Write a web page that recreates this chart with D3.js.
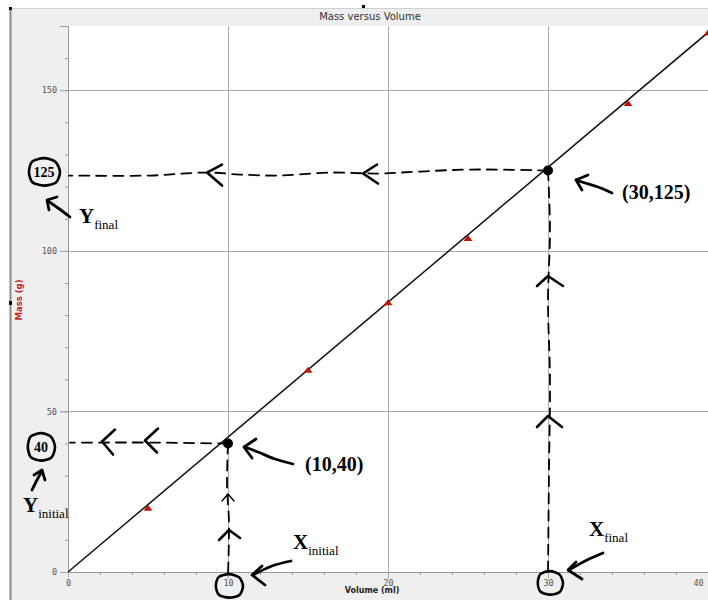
<!DOCTYPE html>
<html><head><meta charset="utf-8">
<script src="https://cdn.jsdelivr.net/npm/d3@7/dist/d3.min.js"></script>
<style>html,body{margin:0;padding:0;background:#fff;overflow:hidden}</style>
</head><body>
<svg id="chart" width="708" height="600"></svg>
<script>
// Measured samples
const volumes = [5, 15, 20, 25, 35, 40];
const masses  = [20, 63, 84, 104, 146, 168];
// Best-fit line through the origin
const fitVolumes = [0, 40];
const fitMasses  = [0, 168];
// Axis ticks
const xTicks = [0, 10, 20, 30, 40];
const yTicks = [0, 50, 100, 150];
// Two readings taken off the line
const readVolumes = [10, 30];
const readMasses  = [40, 125];
const readLabels  = ["(10,40)", "(30,125)"];

const svg = d3.select("#chart");
const W = 708, H = 600;
const x = d3.scaleLinear().domain([0, 40]).range([68, 708]);
const y = d3.scaleLinear().domain([0, 170]).range([572, 26]);

// frame / panel
svg.append("rect").attr("width", W).attr("height", H).attr("fill", "#fff");
svg.append("rect").attr("x", 10).attr("y", 8).attr("width", W - 10).attr("height", H - 8).attr("fill", "#efefef");
svg.append("line").attr("x1", 10).attr("x2", W).attr("y1", 8.5).attr("y2", 8.5).attr("stroke", "#cfcfcf");
svg.append("line").attr("x1", 10.5).attr("x2", 10.5).attr("y1", 8).attr("y2", H).attr("stroke", "#8c8c8c").attr("stroke-width", 2);
svg.append("rect").attr("x", 9).attr("y", 7).attr("width", 3).attr("height", 3).attr("fill", "#000");
svg.append("rect").attr("x", 362).attr("y", 5).attr("width", 3).attr("height", 3).attr("fill", "#000");
svg.append("rect").attr("x", 9).attr("y", 301).attr("width", 3).attr("height", 4).attr("fill", "#000");

// title
svg.append("text").attr("x", 370).attr("y", 20).attr("text-anchor", "middle")
  .attr("font-family", "DejaVu Sans, sans-serif").attr("font-size", 10).attr("fill", "#333")
  .text("Mass versus Volume");

// plot area
svg.append("rect").attr("x", x(0)).attr("y", y(170)).attr("width", x(40) - x(0)).attr("height", y(0) - y(170)).attr("fill", "#fff");

// grid
const grid = svg.append("g").attr("stroke", "#ababab").attr("stroke-width", 1);
xTicks.filter(d => d > 0).forEach(d => {
  grid.append("line").attr("x1", Math.round(x(d)) + 0.5).attr("x2", Math.round(x(d)) + 0.5)
    .attr("y1", y(170)).attr("y2", y(0) + 7);
});
yTicks.filter(d => d > 0).forEach(d => {
  grid.append("line").attr("y1", Math.round(y(d)) + 0.5).attr("y2", Math.round(y(d)) + 0.5)
    .attr("x1", x(0) - 8).attr("x2", x(40));
});

// axes
const tickFont = "DejaVu Sans Mono, monospace";
const yMinor = svg.append("g").attr("transform", `translate(${x(0)},0)`)
  .call(d3.axisLeft(y).tickValues(d3.range(0, 171, 10)).tickSize(3).tickFormat(""));
const xMinor = svg.append("g").attr("transform", `translate(0,${y(0)})`)
  .call(d3.axisBottom(x).tickValues(d3.range(0, 41, 2)).tickSize(3).tickFormat(""));
[yMinor, xMinor].forEach(g => { g.selectAll("line,path").attr("stroke", "#999"); });

const yAxis = svg.append("g").attr("transform", `translate(${x(0)},0)`)
  .call(d3.axisLeft(y).tickValues(yTicks).tickSize(8).tickPadding(3));
const xAxis = svg.append("g").attr("transform", `translate(0,${y(0)})`)
  .call(d3.axisBottom(x).tickValues(xTicks).tickSize(5).tickPadding(3));
[yAxis, xAxis].forEach(g => {
  g.select(".domain").attr("stroke", "#9a9a9a");
  g.selectAll(".tick line").attr("stroke", "#ababab");
  g.selectAll(".tick text").attr("font-family", tickFont).attr("font-size", 8.5).attr("fill", "#555");
});
xAxis.selectAll(".tick").filter(d => d === 40).select("text").attr("dx", -10);

// axis titles
svg.append("text").attr("transform", "translate(22,300) rotate(-90)").attr("text-anchor", "middle")
  .attr("font-family", "DejaVu Sans, sans-serif").attr("font-size", 8.5).attr("font-weight", "bold")
  .attr("fill", "#c81e1e").text("Mass (g)");
svg.append("text").attr("x", 372).attr("y", 593).attr("text-anchor", "middle")
  .attr("font-family", "DejaVu Sans, sans-serif").attr("font-size", 8).attr("font-weight", "bold")
  .attr("fill", "#222").text("Volume (ml)");

// fit line
svg.append("path").datum(fitVolumes.map((v, i) => [v, fitMasses[i]]))
  .attr("d", d3.line().x(d => x(d[0])).y(d => y(d[1])))
  .attr("fill", "none").attr("stroke", "#111").attr("stroke-width", 1.5);

// measured points (red triangles)
const tri = "M0,-3 L4.5,3 L-4.5,3 Z";
svg.append("g").selectAll("path").data(volumes).join("path")
  .attr("transform", (v, i) => `translate(${x(v)},${y(masses[i])})`)
  .attr("d", tri).attr("fill", "#c0140c");

// ---- hand-drawn reading annotations ----
const ink = svg.append("g").attr("fill", "none").attr("stroke", "#000")
  .attr("stroke-linecap", "round").attr("stroke-linejoin", "round");
const smooth = d3.line().curve(d3.curveCatmullRom.alpha(0.5));
const poly = d3.line();

const ax = x(readVolumes[0]), ay = y(readMasses[0]);
const bx = x(readVolumes[1]), by = y(readMasses[1]);

// dashed guides from each reading to the axes
const dash = { w: 1.8, a: "10,7" };
const guides = [
  [[ax, ay], [150, ay - 1], [100, ay - 1], [x(0) + 2, ay - 1]],
  [[ax, ay], [ax - 1, ay + 40], [ax + 1, ay + 80], [ax, y(0) + 3]],
  [[bx, by], [470, by - 1], [420, by + 1], [378, by + 3], [330, by + 2], [280, by + 5], [240, by + 4], [207, by + 2], [150, by + 5], [x(0) + 1, by + 5]],
  [[bx, by], [bx + 2, by + 60], [bx, by + 130], [bx + 2, by + 210], [bx + 1, by + 300], [bx, y(0)]]
];
guides.forEach(g => ink.append("path").attr("d", smooth(g))
  .attr("stroke-width", dash.w).attr("stroke-dasharray", dash.a));

// chevrons along the guides
const chevrons = [
  { p: [[115, ay - 14], [102, ay - 2], [113, ay + 11]], w: 2.6 },
  { p: [[158, ay - 15], [145, ay - 3], [157, ay + 9]], w: 2.6 },
  { p: [[222, 501], [ax, 494], [234, 501]], w: 1.4 },
  { p: [[219, 540], [ax + 1, 530], [240, 538]], w: 2.6 },
  { p: [[222, by - 6], [207, by + 2], [222, by + 15]], w: 2.6 },
  { p: [[377, by - 6], [363, by + 3], [378, by + 13]], w: 2.6 },
  { p: [[537, 286], [bx, 276], [563, 286]], w: 2.6 },
  { p: [[537, 427], [bx, 416], [562, 427]], w: 2.6 }
];
chevrons.forEach(c => ink.append("path").attr("d", poly(c.p)).attr("stroke-width", c.w));

// reading dots
svg.append("g").selectAll("circle").data(readVolumes).join("circle")
  .attr("cx", d => x(d)).attr("cy", (d, i) => y(readMasses[i])).attr("r", 5).attr("fill", "#000");

// loops around the values that were read
const wobble = [1.0, 1.06, 0.97, 1.03, 0.94, 1.05, 0.99, 1.02];
function loop(cx, cy, rx, ry) {
  const pts = wobble.map((k, i) => {
    const t = i / wobble.length * 2 * Math.PI;
    return [cx + Math.cos(t) * rx * k, cy + Math.sin(t) * ry * k];
  });
  return d3.line().curve(d3.curveCardinalClosed.tension(0.2))(pts);
}
[[x(10) + 1, 586, 14, 12], [x(30) + 2, 583, 13, 12], [41, 447, 14, 14], [44, 172, 16, 14]]
  .forEach(c => ink.append("path").attr("d", loop(...c)).attr("stroke-width", 2.6));

// hand-written values inside the left loops
const serif = "Liberation Serif, Times New Roman, serif";
[["40", 41, 447], ["125", 44, 172]].forEach(([t, cx, cy]) =>
  svg.append("text").attr("x", cx).attr("y", cy + 5).attr("text-anchor", "middle")
    .attr("font-family", serif).attr("font-size", 14).attr("font-weight", "bold").attr("fill", "#000").text(t));

// pointer arrows
const arrows = [
  { shaft: [[293, 464], [275, 459], [258, 452], [245, 447]], head: [[256, 439], [244, 447], [252, 458]] },
  { shaft: [[612, 193], [598, 187], [585, 183], [576, 180]], head: [[588, 175], [576, 180], [582, 190]] },
  { shaft: [[70, 217], [58, 208], [48, 201]], head: [[57, 197], [47, 200], [49, 210]] },
  { shaft: [[32, 490], [37, 480], [42, 471]], head: [[34, 475], [42, 470], [45, 480]] },
  { shaft: [[291, 561], [272, 566], [253, 575]], head: [[262, 566], [252, 575], [265, 585]] },
  { shaft: [[603, 553], [587, 560], [569, 570]], head: [[576, 562], [568, 570], [582, 579]] }
];
arrows.forEach(a => {
  ink.append("path").attr("d", smooth(a.shaft)).attr("stroke-width", 2.8);
  ink.append("path").attr("d", poly(a.head)).attr("stroke-width", 2.8);
});

// coordinate labels
readLabels.forEach((t, i) => {
  const pos = i === 0 ? [305, 471] : [622, 199];
  svg.append("text").attr("x", pos[0]).attr("y", pos[1])
    .attr("font-family", serif).attr("font-size", 20).attr("font-weight", "bold").attr("fill", "#000").text(t);
});

// variable names with subscripts
const names = [
  { big: "Y", sub: "final",   x: 79,  y: 223 },
  { big: "Y", sub: "initial", x: 23,  y: 512 },
  { big: "X", sub: "initial", x: 293, y: 549 },
  { big: "X", sub: "final",   x: 589, y: 536 }
];
names.forEach(n => {
  const t = svg.append("text").attr("x", n.x).attr("y", n.y)
    .attr("font-family", serif).attr("fill", "#000");
  t.append("tspan").attr("font-size", 21).attr("font-weight", "bold").text(n.big);
  t.append("tspan").attr("font-size", 13).attr("dy", 6).text(n.sub);
});
</script>
</body></html>
